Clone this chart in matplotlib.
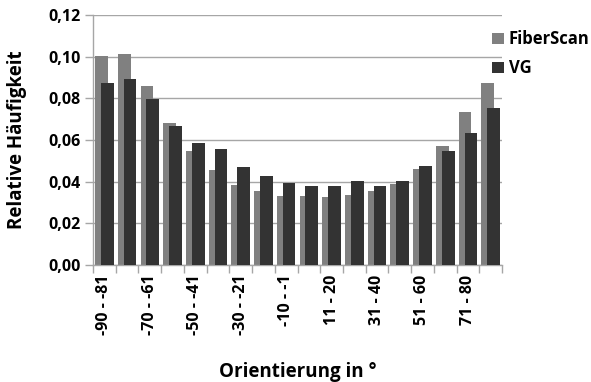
import matplotlib
matplotlib.use("Agg")
import matplotlib.pyplot as plt
import numpy as np

plt.rcParams['font.family'] = ['Open Sans', 'DejaVu Sans']
plt.rcParams['font.weight'] = 'bold'

categories = ["-90 - -81", "-80 - -71", "-70 - -61", "-60 - -51", "-50 - -41",
              "-40 - -31", "-30 - -21", "-20 - -11", "-10 - -1", "0 - 10",
              "11 - 20", "21 - 30", "31 - 40", "41 - 50", "51 - 60",
              "61 - 70", "71 - 80", "81 - 90"]
fiberscan = [0.1002, 0.1014, 0.0857, 0.0684, 0.0546, 0.0454, 0.0385, 0.0354, 0.0332,
             0.0333, 0.0324, 0.0338, 0.0353, 0.0388, 0.0462, 0.0572, 0.0736, 0.0875]
vg = [0.0872, 0.0891, 0.0798, 0.0667, 0.0585, 0.0556, 0.0471, 0.0428, 0.0394,
      0.0380, 0.0377, 0.0401, 0.0381, 0.0405, 0.0474, 0.0545, 0.0635, 0.0756]
yticks = [0.00, 0.02, 0.04, 0.06, 0.08, 0.10, 0.12]

fig = plt.figure(figsize=(5.91, 3.82), dpi=100)
ax = fig.add_axes([0.1574, 0.3063, 0.6920, 0.6544])

x = np.arange(len(categories))
w = 0.56
off = 0.13
ax.bar(x - off, fiberscan, w, color="#808080", label="FiberScan", zorder=2)
ax.bar(x + off, vg, w, color="#333333", label="VG", zorder=3)

ax.set_xlim(-0.5, len(categories) - 0.5)
ax.set_ylim(0, 0.12)
ax.set_yticks(yticks)
ax.set_yticklabels([f"{v:.2f}".replace(".", ",") for v in yticks], fontsize=11.5)
ax.yaxis.grid(True, color="#a6a6a6", linewidth=1.0, zorder=0)
ax.set_axisbelow(True)

ax.set_xticks(x[::2])
ax.set_xticklabels(categories[::2], rotation=90, fontsize=11.5)
ax.set_xticks(np.arange(len(categories) + 1) - 0.5, minor=True)
ax.tick_params(axis="x", which="major", length=0, pad=7)
ax.tick_params(axis="x", which="minor", length=6, color="#a6a6a6", width=1.0)
ax.tick_params(axis="y", length=6, color="#a6a6a6", width=1.0, pad=3)

for s in ("top", "right"):
    ax.spines[s].set_visible(False)
for s in ("left", "bottom"):
    ax.spines[s].set_color("#a6a6a6")
    ax.spines[s].set_linewidth(1.0)

ax.set_ylabel("Relative Häufigkeit", fontsize=13.5, fontweight="bold", labelpad=15)
ax.set_xlabel("Orientierung in °", fontsize=13.5, fontweight="bold", labelpad=19)

leg = ax.legend(loc="upper left", bbox_to_anchor=(0.96, 0.965), frameon=False,
                fontsize=12, handlelength=0.7, handleheight=0.7,
                handletextpad=0.3, labelspacing=0.65, borderaxespad=0)

fig.savefig("out.png", dpi=100, facecolor="white")
